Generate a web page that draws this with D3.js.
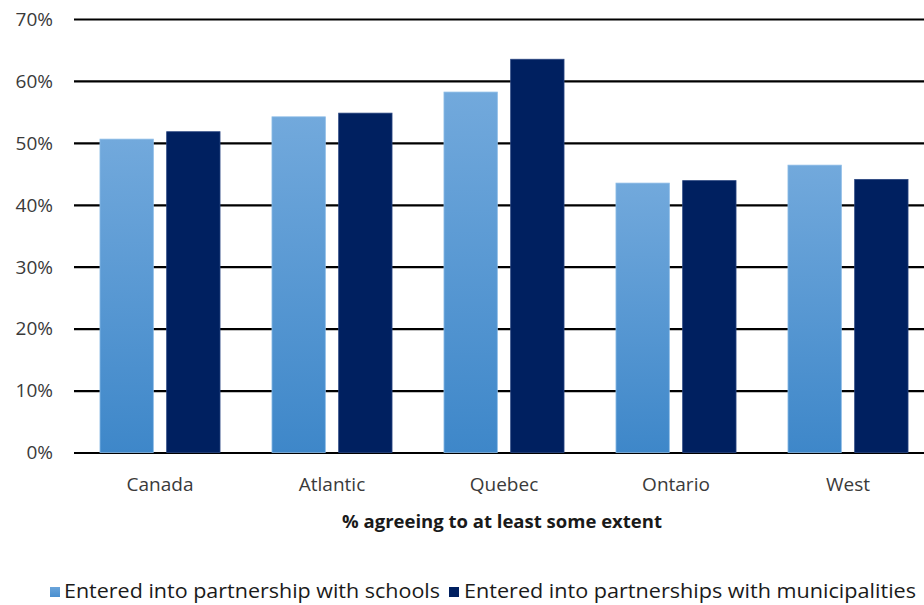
<!DOCTYPE html>
<html>
<head>
<meta charset="utf-8">
<script src="https://cdnjs.cloudflare.com/ajax/libs/d3/7.8.5/d3.min.js"></script>
<style>
  html, body { margin: 0; padding: 0; background: #fff; }
  svg { display: block; font-family: "Open Sans", "DejaVu Sans", sans-serif; }
</style>
</head>
<body>
<svg id="chart" width="924" height="605"></svg>
<script>
// Regions and the two series (% agreeing)
const regions = ["Canada", "Atlantic", "Quebec", "Ontario", "West"];
const schools = [50.6, 54.2, 58.2, 43.5, 46.4];
const municipalities = [51.8, 54.8, 63.5, 43.9, 44.1];
const seriesNames = ["Entered into partnership with schools", "Entered into partnerships with municipalities"];
const yTicks = [0, 10, 20, 30, 40, 50, 60, 70];

const svg = d3.select("#chart");
const margin = { top: 19, left: 74 };
const plotW = 860;   // plot runs past the right edge of the picture, as in the original
const plotH = 433.5;

const g = svg.append("g").attr("transform", `translate(${margin.left},${margin.top})`);

// step 172px per region, bar pair 120px wide and centred in its band
const x0 = d3.scaleBand().domain(regions).range([0, plotW]).paddingInner(0.302).paddingOuter(0.151);
const x1 = d3.scaleBand().domain([0, 1]).range([0, x0.bandwidth()]).paddingInner(0.2);
const y = d3.scaleLinear().domain([0, 70]).range([plotH, 0]);

// vertical gradient for the light series
const defs = svg.append("defs");
const grad = defs.append("linearGradient").attr("id", "lightGrad")
  .attr("x1", 0).attr("y1", 0).attr("x2", 0).attr("y2", 1);
grad.append("stop").attr("offset", "0%").attr("stop-color", "#72a9dc");
grad.append("stop").attr("offset", "100%").attr("stop-color", "#3e87c9");

const legGrad = defs.append("linearGradient").attr("id", "legGrad")
  .attr("x1", 0).attr("y1", 0).attr("x2", 0).attr("y2", 1);
legGrad.append("stop").attr("offset", "0%").attr("stop-color", "#6aa4da");
legGrad.append("stop").attr("offset", "100%").attr("stop-color", "#4a8fcf");

// gridlines (0% line included)
g.append("g")
  .call(d3.axisLeft(y).tickValues(yTicks).tickSize(-plotW).tickFormat(""))
  .call((gg) => gg.select(".domain").remove())
  .selectAll("line").attr("stroke", "#000").attr("stroke-width", 2.2);

// tick labels
g.append("g").selectAll("text").data(yTicks).join("text")
  .attr("x", -21).attr("y", (d) => y(d)).attr("dy", "0.36em")
  .attr("text-anchor", "end").style("font-size", "19px").style("fill", "#3a3a3a")
  .text((d) => `${d}%`);

const fills = ["url(#lightGrad)", "#002060"];
const strokes = ["#8bbbe6", "#2a4680"];
[schools, municipalities].forEach((vals, s) => {
  g.append("g").selectAll("rect").data(vals).join("rect")
    .attr("x", (d, i) => x0(regions[i]) + x1(s))
    .attr("y", (d) => y(d))
    .attr("width", x1.bandwidth())
    .attr("height", (d) => y(0) - y(d))
    .attr("fill", fills[s])
    .attr("stroke", strokes[s]).attr("stroke-width", 0.8);
});

// category labels
g.append("g").selectAll("text").data(regions).join("text")
  .attr("x", (d) => x0(d) + x0.bandwidth() / 2)
  .attr("y", 472)
  .attr("text-anchor", "middle").style("font-size", "19px").style("fill", "#3a3a3a")
  .text((d) => d);

// axis title
svg.append("text")
  .attr("x", 502).attr("y", 528)
  .attr("text-anchor", "middle").style("font-size", "18.5px").style("font-weight", "bold").style("fill", "#1a1a1a")
  .text("% agreeing to at least some extent");

// legend
const legend = svg.append("g");
const legItems = [
  { x: 50, tx: 64, w: 376, fill: "url(#legGrad)" },
  { x: 449, tx: 464, w: 452, fill: "#002060" },
];
legItems.forEach((it, i) => {
  legend.append("rect").attr("x", it.x).attr("y", 587).attr("width", 10).attr("height", 10).attr("fill", it.fill);
  legend.append("text").attr("x", it.tx).attr("y", 598)
    .attr("textLength", it.w).attr("lengthAdjust", "spacingAndGlyphs")
    .style("font-size", "20px").style("fill", "#1a1a1a")
    .text(seriesNames[i]);
});
</script>
</body>
</html>
